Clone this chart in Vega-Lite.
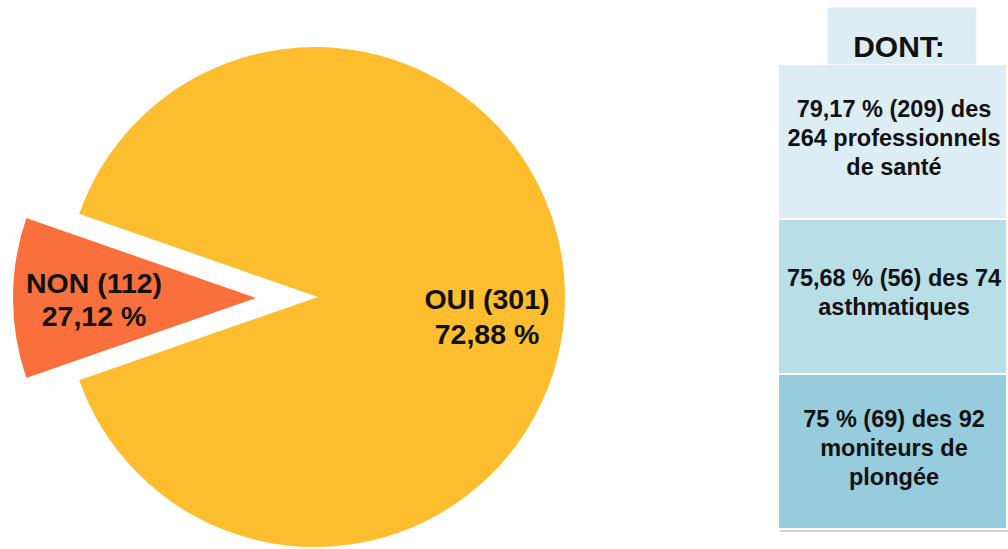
{
  "$schema": "https://vega.github.io/schema/vega-lite/v6.json",
  "width": 1008,
  "height": 549,
  "autosize": {"type": "fit", "contains": "padding"},
  "padding": 0,
  "background": "white",
  "config": {"view": {"stroke": null}, "font": "Liberation Sans"},
  "datasets": {
    "pie": [
      {"cat": "NON", "n": 112, "label": ["NON (112)", "27,12 %"]},
      {"cat": "OUI", "n": 301, "label": ["OUI (301)", "72,88 %"]}
    ],
    "boxes": [
      {"row": 1, "label": ["79,17 % (209) des", "264 professionnels", "de santé"]},
      {"row": 2, "label": ["75,68 % (56) des 74", "asthmatiques"]},
      {"row": 3, "label": ["75 % (69) des 92", "moniteurs de", "plongée"]}
    ],
    "header": [{"label": "DONT:"}],
    "one": [{}]
  },
  "layer": [
    {
      "data": {"name": "one"},
      "mark": {"type": "rule", "x": 777, "y": 64, "x2": 337, "y2": 45, "color": "#111", "strokeWidth": 2},
      "encoding": {}
    },
    {
      "data": {"name": "one"},
      "mark": {"type": "rule", "x": 777, "y": 528, "x2": 330, "y2": 547, "color": "#111", "strokeWidth": 2},
      "encoding": {}
    },
    {
      "data": {"name": "one"},
      "mark": {"type": "rule", "x": 776, "y": 64, "x2": 776, "y2": 528, "color": "#aaa", "strokeWidth": 1.5},
      "encoding": {}
    },
    {
      "data": {"name": "one"},
      "mark": {"type": "rect", "x": 779, "y": 66, "x2": 1008, "y2": 531, "color": "#d4d4d4"},
      "encoding": {}
    },
    {
      "data": {"name": "pie"},
      "mark": {"type": "arc", "x": 314, "y": 296, "outerRadius": 251, "stroke": "white", "strokeWidth": 2},
      "encoding": {
        "theta": {"field": "n", "type": "quantitative", "stack": true, "scale": {"domain": [0, 112, 413], "range": [4.3773, 5.0475, 10.6605]}},
        "order": {"field": "cat", "type": "ordinal"},
        "color": {"field": "cat", "type": "nominal", "scale": {"domain": ["NON", "OUI"], "range": ["#F9703C", "#FCBD2E"]}, "legend": null},
        "opacity": {"condition": {"test": "datum.cat === 'OUI'", "value": 1}, "value": 0}
      }
    },
    {
      "data": {"name": "pie"},
      "mark": {"type": "arc", "x": 258, "y": 297, "outerRadius": 247, "stroke": "white", "strokeWidth": 2},
      "encoding": {
        "theta": {"field": "n", "type": "quantitative", "stack": true, "scale": {"domain": [0, 112, 413], "range": [4.3773, 5.0475, 10.6605]}},
        "order": {"field": "cat", "type": "ordinal"},
        "color": {"field": "cat", "type": "nominal", "scale": {"domain": ["NON", "OUI"], "range": ["#F9703C", "#FCBD2E"]}, "legend": null},
        "opacity": {"condition": {"test": "datum.cat === 'NON'", "value": 1}, "value": 0}
      }
    },
    {
      "data": {"name": "pie"},
      "mark": {"type": "text", "x": 314, "y": 296, "radius": 172, "dy": 3, "fontSize": 28.5, "fontWeight": "bold", "lineHeight": 35, "color": "#111", "align": "center", "baseline": "middle"},
      "encoding": {
        "theta": {"field": "n", "type": "quantitative", "stack": true, "scale": {"domain": [0, 112, 413], "range": [4.3773, 5.0475, 10.6605]}},
        "order": {"field": "cat", "type": "ordinal"},
        "text": {"condition": {"test": "datum.cat === 'OUI'", "field": "label"}, "value": ""}
      }
    },
    {
      "data": {"name": "pie"},
      "mark": {"type": "text", "x": 258, "y": 297, "radius": 165, "dy": -14, "fontSize": 28.5, "fontWeight": "bold", "lineHeight": 33, "color": "#111", "align": "center", "baseline": "middle"},
      "encoding": {
        "theta": {"field": "n", "type": "quantitative", "stack": true, "scale": {"domain": [0, 112, 413], "range": [4.3773, 5.0475, 10.6605]}},
        "order": {"field": "cat", "type": "ordinal"},
        "text": {"condition": {"test": "datum.cat === 'NON'", "field": "label"}, "value": ""}
      }
    },
    {
      "data": {"name": "boxes"},
      "mark": {"type": "rect", "x": 777, "x2": 1006, "stroke": "white", "strokeWidth": 2},
      "encoding": {
        "y": {"field": "row", "type": "ordinal", "axis": null, "scale": {"domain": [1, 2, 3], "range": [63, 528], "paddingInner": 0, "paddingOuter": 0}},
        "color": {"field": "row", "type": "ordinal", "scale": {"domain": [1, 2, 3], "range": ["#DCEDF3", "#B8DEE7", "#96CCDB"]}, "legend": null}
      }
    },
    {
      "data": {"name": "boxes"},
      "mark": {"type": "text", "x": 893, "dy": {"expr": "-14.5*(length(datum.label)-1) - 3"}, "fontSize": 23.5, "fontWeight": "bold", "lineHeight": 29, "color": "#111", "align": "center", "baseline": "middle"},
      "encoding": {
        "y": {"field": "row", "type": "ordinal", "axis": null, "scale": {"domain": [1, 2, 3], "range": [63, 528], "paddingInner": 0, "paddingOuter": 0}},
        "text": {"field": "label"}
      }
    },
    {
      "data": {"name": "header"},
      "mark": {"type": "rect", "x": 827, "x2": 975, "y": 7, "y2": 63, "color": "#DCEDF3", "stroke": "#E6EFF3", "strokeWidth": 1},
      "encoding": {}
    },
    {
      "data": {"name": "header"},
      "mark": {"type": "text", "x": 898, "y": 47, "fontSize": 30, "fontWeight": "bold", "color": "#111", "align": "center", "baseline": "middle"},
      "encoding": {"text": {"field": "label"}}
    }
  ],
  "resolve": {"scale": {"color": "independent", "y": "independent"}}
}
